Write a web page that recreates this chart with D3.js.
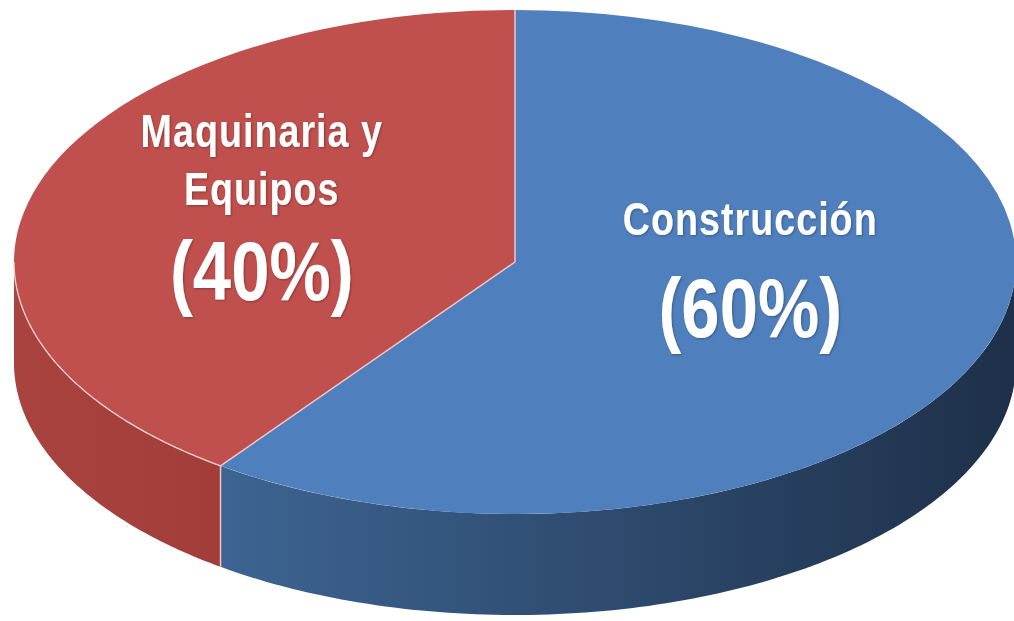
<!DOCTYPE html>
<html>
<head>
<meta charset="utf-8">
<script src="https://cdn.jsdelivr.net/npm/d3@7"></script>
<style>
  html, body { margin: 0; padding: 0; background: #fff; }
  svg { display: block; }
  text { font-family: "Liberation Sans", Arial, sans-serif; font-weight: bold; fill: #fff; }
</style>
</head>
<body>
<svg id="chart" width="1014" height="621"></svg>
<script>
// data
const categories = ["Construcción", "Maquinaria y Equipos"];
const values = [60, 40];
const nameLines = [["Construcción"], ["Maquinaria y", "Equipos"]];
const pctLabels = ["(60%)", "(40%)"];
const topColors = ["#4f80bd", "#c0504d"];
const sideColors = [["#3d6492", "#1e3049"], ["#a9433f", "#a23d3a"]];

const width = 1014, height = 621;
const cx = 515, cy = 262, rx = 501, ry = 252, depth = 101;

const svg = d3.select("#chart");
const defs = svg.append("defs");

const pie = d3.pie().sort(null).value(d => d).startAngle(0).endAngle(2 * Math.PI);
const slices = pie(values);

// point on the top ellipse for an angle (0 = 12 o'clock, clockwise)
const px = a => cx + rx * Math.sin(a);
const py = a => cy - ry * Math.cos(a);

const line = d3.line();

// soft shadow for labels
const f = defs.append("filter").attr("id", "tshadow").attr("x", "-20%").attr("y", "-20%").attr("width", "140%").attr("height", "140%");
f.append("feDropShadow").attr("dx", 1).attr("dy", 1).attr("stdDeviation", 1.2)
  .attr("flood-color", "#000").attr("flood-opacity", 0.3);

// side walls (only the front half is visible)
slices.forEach((s, i) => {
  const a0 = Math.max(s.startAngle, Math.PI / 2);
  const a1 = Math.min(s.endAngle, 3 * Math.PI / 2);
  if (a0 >= a1) return;
  const gid = "side" + i;
  const g = defs.append("linearGradient").attr("id", gid)
    .attr("gradientUnits", "userSpaceOnUse")
    .attr("x1", Math.min(px(a0), px(a1))).attr("x2", Math.max(px(a0), px(a1)))
    .attr("y1", 0).attr("y2", 0);
  g.append("stop").attr("offset", "0%").attr("stop-color", sideColors[i][0]);
  g.append("stop").attr("offset", "100%").attr("stop-color", sideColors[i][1]);

  const angles = d3.range(0, 121).map(k => a0 + (a1 - a0) * k / 120);
  const topPts = angles.map(a => [px(a), py(a)]);
  const botPts = angles.slice().reverse().map(a => [px(a), py(a) + depth]);
  svg.append("path")
    .attr("d", line(topPts.concat(botPts)) + "Z")
    .attr("fill", `url(#${gid})`);
});

// vertical seam where the slices meet on the front wall
slices.forEach(s => {
  const a = s.startAngle;
  if (a > Math.PI / 2 && a < 3 * Math.PI / 2) {
    svg.append("line")
      .attr("x1", px(a)).attr("y1", py(a))
      .attr("x2", px(a)).attr("y2", py(a) + depth)
      .attr("stroke", "#e8c6c3").attr("stroke-width", 1.5);
  }
});

// top faces
const arc = d3.arc().innerRadius(0).outerRadius(rx);
svg.append("g")
  .attr("transform", `translate(${cx},${cy}) scale(1,${ry / rx})`)
  .selectAll("path")
  .data(slices)
  .join("path")
  .attr("d", arc)
  .attr("fill", (d, i) => topColors[i]);

// light rim along the red front edge
const red = slices[1];
const r0 = Math.max(red.startAngle, Math.PI / 2), r1 = Math.min(red.endAngle, 3 * Math.PI / 2);
const rimAngles = d3.range(0, 121).map(k => r0 + (r1 - r0) * k / 120);
svg.append("path")
  .attr("d", line(rimAngles.map(a => [px(a), py(a)])))
  .attr("fill", "none").attr("stroke", "#f2d3cf").attr("stroke-width", 1.3);

// slice borders on the top face
slices.forEach(s => {
  svg.append("line")
    .attr("x1", cx).attr("y1", cy)
    .attr("x2", px(s.startAngle)).attr("y2", py(s.startAngle))
    .attr("stroke", "#e9c9cc").attr("stroke-width", 1.5);
});

// labels (narrow bold face: Liberation Sans squeezed horizontally)
const labelArc = d3.arc().innerRadius(0).outerRadius(rx);
const squeeze = 0.82;
const nudges = [{ dx: -3, nameBase: [-66], pctBase: 36 },
                { dx: -15, nameBase: [-76, -18], pctBase: 77 }];
function addText(g, x, y, size, t) {
  g.append("text")
    .attr("transform", `translate(${x},${y}) scale(${squeeze},1)`)
    .attr("text-anchor", "middle")
    .attr("font-size", size)
    .attr("letter-spacing", size < 60 ? 1.2 : 0)
    .text(t);
}
slices.forEach((s, i) => {
  const [ux, uy] = labelArc.centroid(s);
  const x = cx + ux + nudges[i].dx;
  const y = cy + uy * ry / rx;
  const g = svg.append("g").attr("filter", "url(#tshadow)");
  nameLines[i].forEach((t, j) => addText(g, x, y + nudges[i].nameBase[j], 46, t));
  addText(g, x, y + nudges[i].pctBase, 84, pctLabels[i]);
});
</script>
</body>
</html>
